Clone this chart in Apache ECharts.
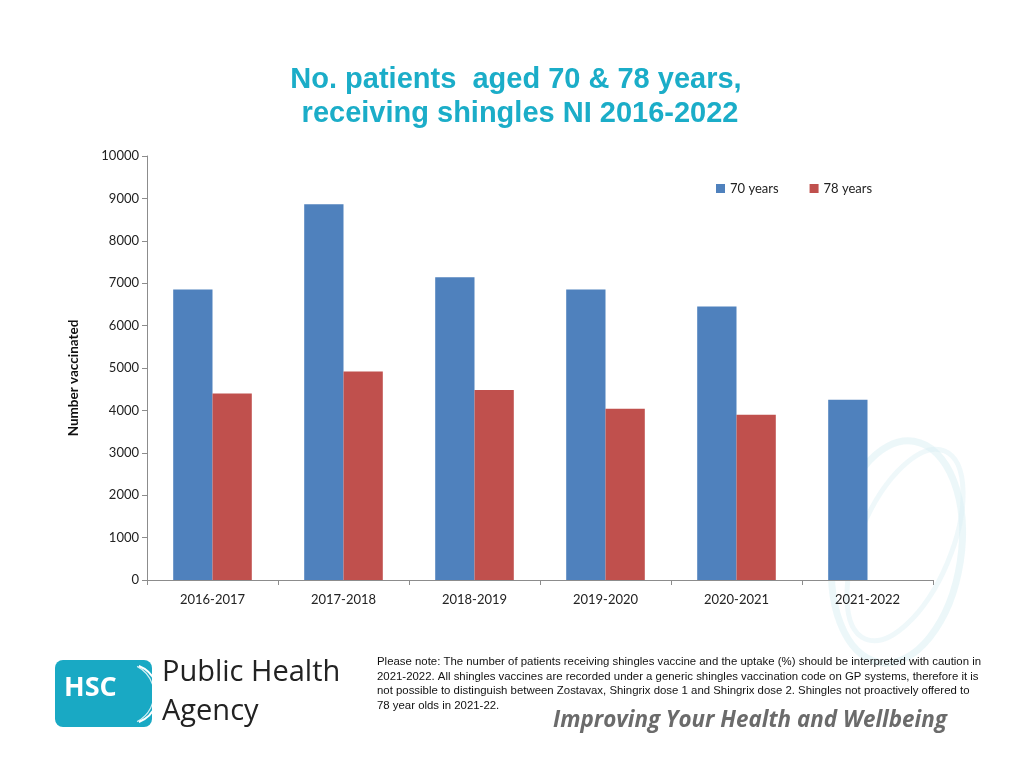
<!DOCTYPE html>
<html>
<head>
<meta charset="utf-8">
<script src="https://cdn.jsdelivr.net/npm/echarts@6/dist/echarts.min.js"></script>
<style>
  html, body { margin: 0; padding: 0; background: #fff; }
  #chart { width: 1024px; height: 768px; }
</style>
</head>
<body>
<div id="chart"></div>
<script>
// data
var years = ['2016-2017', '2017-2018', '2018-2019', '2019-2020', '2020-2021', '2021-2022'];
var aged70 = [6850, 8860, 7140, 6850, 6450, 4250];
var aged78 = [4400, 4920, 4480, 4040, 3900, null];
var yTicks = [0, 1000, 2000, 3000, 4000, 5000, 6000, 7000, 8000, 9000, 10000];

var noteLines = [
  'Please note: The number of patients receiving shingles vaccine and the uptake (%) should be interpreted with caution in',
  '2021-2022. All shingles vaccines are recorded under a generic shingles vaccination code on GP systems, therefore it is',
  'not possible to distinguish between Zostavax, Shingrix dose 1 and Shingrix dose 2. Shingles not proactively offered to',
  '78 year olds in 2021-22.'
];

var chart = echarts.init(document.getElementById('chart'));

var font = 'Lato, "Open Sans", sans-serif';

chart.setOption({
  animation: false,
  title: {
    text: 'No. patients  aged 70 & 78 years,\n receiving shingles NI 2016-2022',
    left: 511,
    top: 58,
    textAlign: 'center',
    textStyle: {
      fontFamily: '"Liberation Sans", Arial, sans-serif',
      fontWeight: 'bold',
      fontSize: 29,
      lineHeight: 34,
      color: '#1BADC8'
    }
  },
  legend: {
    data: ['70 years', '78 years'],
    left: 711,
    top: 177,
    itemWidth: 9,
    itemHeight: 9,
    itemGap: 31,
    icon: 'rect',
    textStyle: { fontFamily: font, fontSize: 13, color: '#222' }
  },
  grid: { left: 147, right: 91, top: 156, bottom: 188 },
  xAxis: {
    type: 'category',
    data: years,
    axisLine: { lineStyle: { color: '#8c8c8c', width: 1 } },
    axisTick: { show: true, length: 5, alignWithLabel: false, lineStyle: { color: '#8c8c8c' } },
    axisLabel: { fontFamily: font, fontSize: 13, color: '#222', margin: 13 }
  },
  yAxis: {
    type: 'value',
    min: 0,
    max: 10000,
    interval: 1000,
    axisLine: { show: true, lineStyle: { color: '#8c8c8c', width: 1 } },
    axisTick: { show: true, length: 5, lineStyle: { color: '#8c8c8c' } },
    axisLabel: {
      fontFamily: font, fontSize: 13, color: '#222', margin: 8,
      formatter: function (v) { return yTicks.indexOf(v) >= 0 ? String(v) : ''; }
    },
    splitLine: { show: false }
  },
  series: [
    {
      name: '70 years',
      type: 'bar',
      data: aged70,
      barGap: '0%',
      barCategoryGap: '40%',
      itemStyle: { color: '#4F81BD' },
      z: 3
    },
    {
      name: '78 years',
      type: 'bar',
      data: aged78,
      itemStyle: { color: '#C0504D' },
      z: 3
    }
  ],
  graphic: [
    // faint watermark swirl
    { type: 'ellipse', z: 0, rotation: -0.15, originX: 897, originY: 552,
      shape: { cx: 897, cy: 552, rx: 64, ry: 112 },
      style: { fill: 'none', stroke: '#D4EDF2', lineWidth: 7, opacity: 0.45 } },
    { type: 'ellipse', z: 0, rotation: -0.4, originX: 905, originY: 545,
      shape: { cx: 905, cy: 545, rx: 46, ry: 102 },
      style: { fill: 'none', stroke: '#DCF0F4', lineWidth: 5, opacity: 0.45 } },
    // Y axis name
    { type: 'text', x: 74, y: 378, rotation: Math.PI / 2,
      style: { text: 'Number vaccinated', fontFamily: font, fontSize: 13.5, fontWeight: 'bold', fill: '#111',
        align: 'center', verticalAlign: 'middle' } },
    // HSC logo
    { type: 'rect', shape: { x: 55, y: 660, width: 97, height: 67, r: 8 },
      style: { fill: '#19A9C4' } },
    { type: 'arc', shape: { cx: 128, cy: 694, r: 30, startAngle: -1.2, endAngle: 1.2 },
      style: { fill: 'none', stroke: '#ffffff', lineWidth: 2 } },
    { type: 'arc', shape: { cx: 123, cy: 694, r: 31, startAngle: -1.1, endAngle: 1.1 },
      style: { fill: 'none', stroke: '#ffffff', lineWidth: 1.2, opacity: 0.8 } },
    { type: 'text', left: 64, top: 675,
      style: { text: 'HSC', fontFamily: '"Open Sans", sans-serif', fontWeight: 'bold', fontSize: 27, fill: '#ffffff' } },
    { type: 'text', left: 162, top: 658,
      style: { text: 'Public Health', fontFamily: '"Open Sans", sans-serif', fontSize: 29, fill: '#222' } },
    { type: 'text', left: 162, top: 697,
      style: { text: 'Agency', fontFamily: '"Open Sans", sans-serif', fontSize: 29, fill: '#222' } },
    // note text
    { type: 'text', left: 377, top: 655,
      style: { text: noteLines.join('\n'), fontFamily: '"Liberation Sans", Arial, sans-serif', fontSize: 11.4, lineHeight: 14.5, fill: '#111' } },
    // slogan
    { type: 'text', left: 553, top: 710,
      style: { text: 'Improving Your Health and Wellbeing', fontFamily: '"Open Sans", sans-serif', fontStyle: 'italic', fontWeight: 'bold', fontSize: 22.4, fill: '#6b6b6b' } }
  ]
});

window.onresize = function () {
  chart.resize();
};
</script>
</body>
</html>
